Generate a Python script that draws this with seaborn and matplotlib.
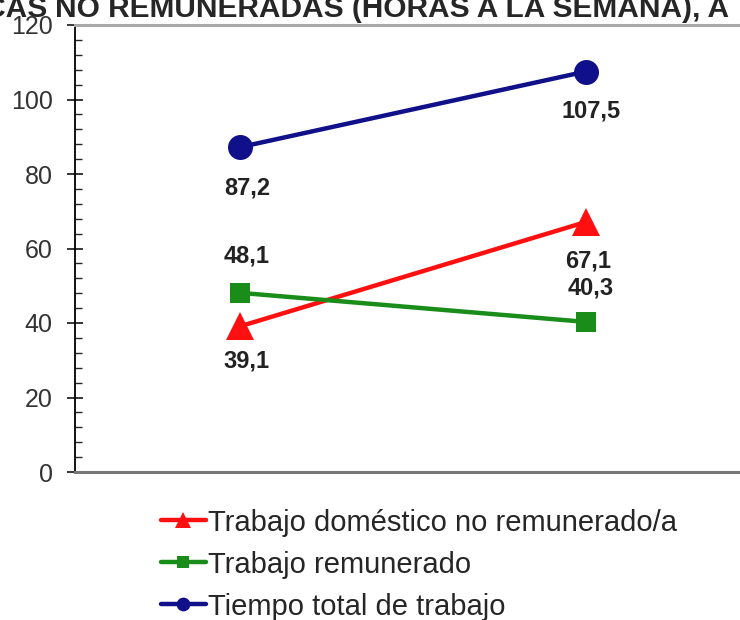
import numpy as np
import seaborn as sns
import pandas as pd
import matplotlib.pyplot as plt

sns.set_style("white")
plt.rcParams["font.family"] = ["Liberation Sans", "DejaVu Sans"]

periodos = ["Periodo 1", "Periodo 2"]
domestico = [39.1, 67.1]
remunerado = [48.1, 40.3]
total = [87.2, 107.5]
series = [
    "Trabajo doméstico no remunerado/a",
    "Trabajo remunerado",
    "Tiempo total de trabajo",
]

data = pd.DataFrame(
    {
        "periodo": periodos * 3,
        "horas": domestico + remunerado + total,
        "serie": [series[0]] * 2 + [series[1]] * 2 + [series[2]] * 2,
    }
)

colores = {series[0]: "#ff1010", series[1]: "#1a8c1a", series[2]: "#10108a"}
marcadores = {series[0]: "^", series[1]: "s", series[2]: "o"}
tamanos = {series[0]: 20, series[1]: 15, series[2]: 18}

fig = plt.figure(figsize=(7.4, 6.2), dpi=100)
W, H = 740, 620
ax = fig.add_axes([75 / W, (H - 472) / H, (W - 75) / W + 0.01, (472 - 25) / H])

for s in series:
    sns.lineplot(
        data=data[data.serie == s],
        x="periodo",
        y="horas",
        color=colores[s],
        marker=marcadores[s],
        markersize=tamanos[s],
        markeredgewidth=0,
        linewidth=3.2,
        label=s,
        legend=False,
        ax=ax,
    )

# etiquetas de valores (desplazamiento en pixeles)
offsets = {
    series[0]: [(7, -35), (3, -39)],
    series[1]: [(7, 37), (5, 34)],
    series[2]: [(7, -41), (5, -39)],
}
for s in series:
    vals = data[data.serie == s]["horas"].tolist()
    for i, v in enumerate(vals):
        ax.annotate(
            f"{v:.1f}".replace(".", ","),
            xy=(i, v),
            xytext=offsets[s][i],
            textcoords="offset pixels",
            ha="center",
            va="center",
            fontsize=17,
            fontweight="bold",
            color="#222222",
        )

ax.set_ylim(0, 120)
ax.set_xlim(-0.477, 1.468)
ax.set_yticks(np.arange(0, 121, 20))
ax.set_yticks(np.arange(0, 121, 4), minor=True)
ax.tick_params(axis="y", which="major", direction="inout", length=12, width=1.3,
               labelsize=18, labelcolor="#333333", pad=10, left=True)
ax.tick_params(axis="y", which="minor", direction="in", length=5, width=1, left=True)
ax.set_xticks([])
ax.set_xlabel("")
ax.set_ylabel("")

ax.spines["right"].set_visible(False)
ax.spines["left"].set_color("black")
ax.spines["left"].set_linewidth(1.3)
ax.spines["top"].set_color("#a8a8a8")
ax.spines["top"].set_linewidth(2.2)
ax.spines["bottom"].set_color("#777777")
ax.spines["bottom"].set_linewidth(2.2)

# titulo cortado en el borde superior
fig.text(47 / W, 1 - 17 / H, "DOMÉSTICAS", ha="right", va="baseline",
         fontsize=21.5, fontweight="bold")
fig.text(55 / W, 1 - 17 / H, "NO REMUNERADAS (HORAS A LA SEMANA), A",
         ha="left", va="baseline", fontsize=21.5, fontweight="bold")

handles, labels = ax.get_legend_handles_labels()
fig.legend(
    handles,
    labels,
    loc="upper left",
    bbox_to_anchor=(146 / W, 1 - 494 / H),
    frameon=False,
    fontsize=21,
    handlelength=1.54,
    handletextpad=0.08,
    labelspacing=0.48,
    markerscale=0.55,
    borderpad=0,
)

fig.savefig("out.png", dpi=100)
